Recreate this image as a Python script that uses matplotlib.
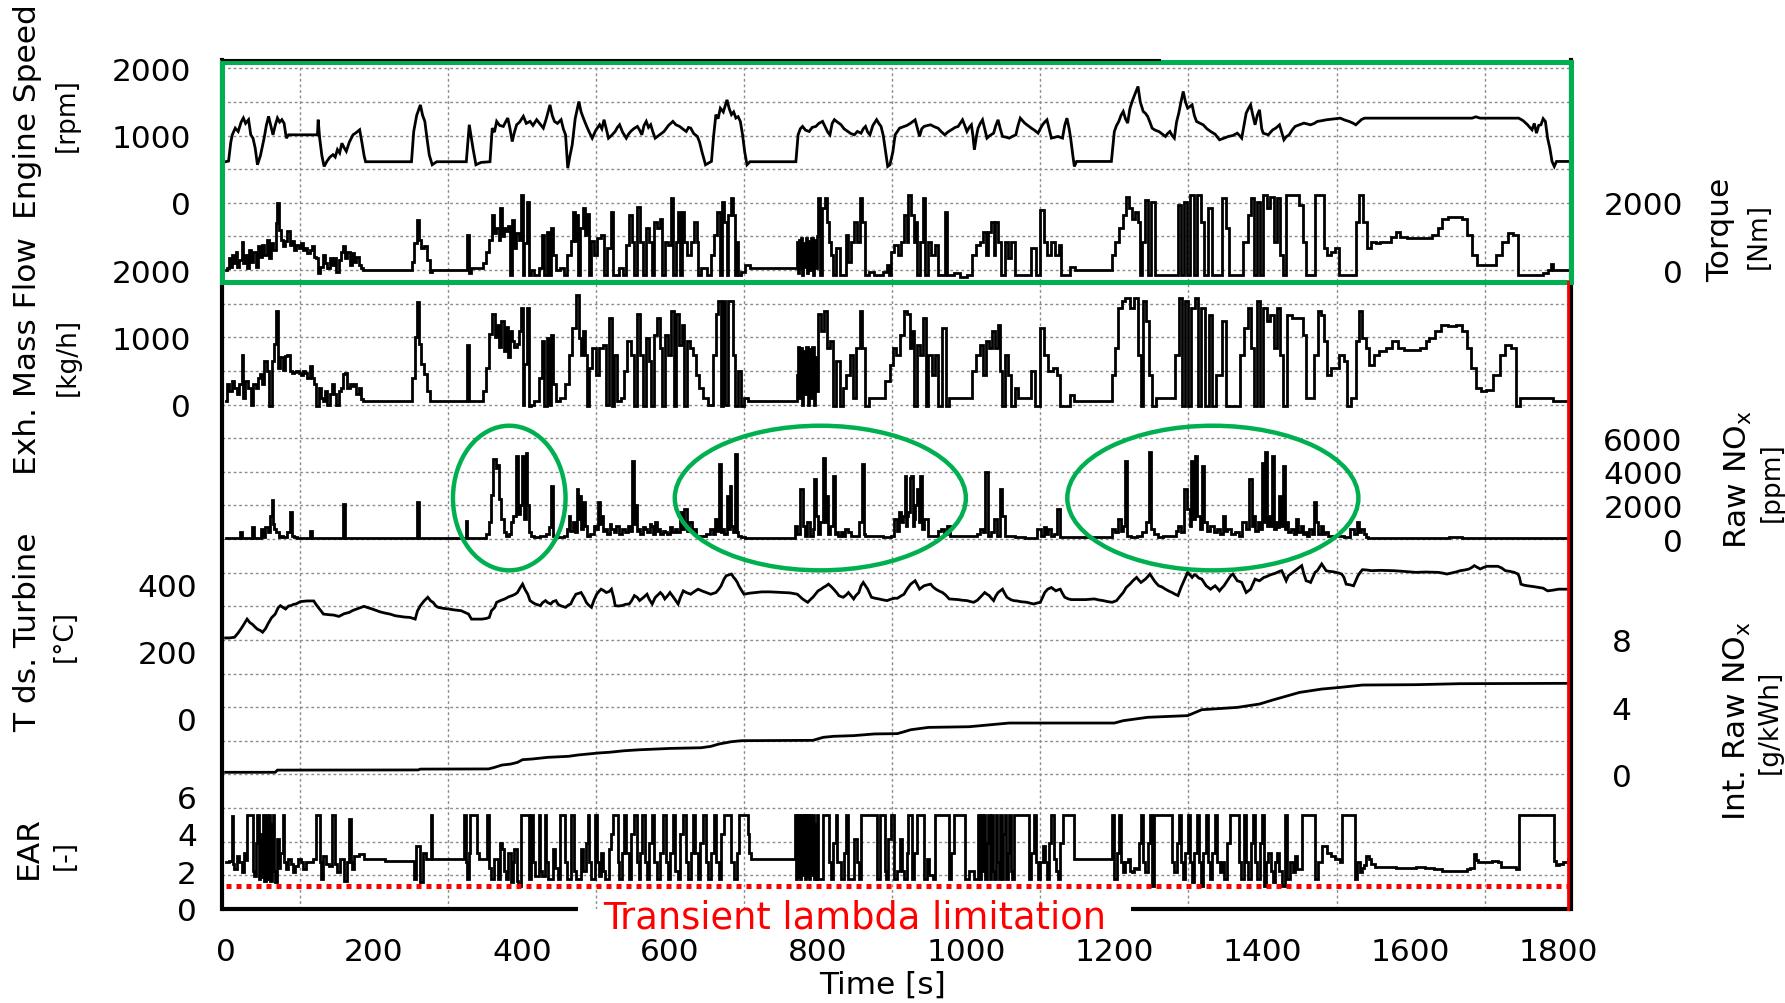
import matplotlib
matplotlib.use("Agg")
import matplotlib.pyplot as plt
import numpy as np
from matplotlib.patches import Ellipse, Rectangle

plt.rcParams["font.family"] = ["DejaVu Sans"]

# ---- signals: (time [s], value) ----
engine_speed = [
    (0, 610), (4, 620), (7, 900), (9, 1010), (13, 1110), (17, 1060), (21, 1200), (24, 1260), (27, 1180),
    (31, 1235), (34, 1010), (37, 960), (40, 810), (43, 565), (47, 700), (52, 960), (55, 1150), (58, 1285),
    (61, 1150), (64, 1010), (67, 1150), (70, 1260), (73, 1200), (76, 1235), (79, 1180), (82, 960), (85, 1010),
    (124, 1010), (125, 1235), (127, 960), (130, 700), (133, 540), (137, 620), (141, 680), (145, 715), (148, 680),
    (151, 790), (154, 740), (157, 885), (160, 820), (163, 765), (167, 900), (172, 1010), (176, 1040), (181, 1085),
    (184, 900), (187, 700), (189, 610), (251, 610), (254, 1060), (258, 1300), (263, 1455), (266, 1300), (269, 1210),
    (272, 950), (275, 710), (279, 565), (285, 610), (325, 610), (329, 1160), (334, 810), (338, 565), (345, 600),
    (357, 610), (360, 1110), (363, 1050), (366, 1210), (370, 1150), (375, 1135), (378, 1200), (381, 1260),
    (384, 1100), (387, 910), (390, 1050), (393, 1160), (397, 1200), (402, 1285), (406, 1180), (411, 1210),
    (415, 1150), (420, 1235), (424, 1180), (429, 1110), (433, 1250), (438, 1455), (441, 1300), (444, 1210),
    (448, 1180), (453, 1235), (456, 1100), (459, 1010), (462, 515), (465, 700), (468, 860), (472, 1250),
    (477, 1505), (480, 1350), (483, 1260), (487, 1150), (491, 1050), (495, 960), (500, 1080), (505, 1160),
    (508, 1100), (511, 1235), (514, 1100), (517, 960), (521, 1000), (526, 1060), (529, 1120), (532, 1160),
    (536, 1050), (541, 960), (544, 1020), (547, 1060), (551, 1100), (556, 1135), (559, 1080), (562, 1010),
    (565, 1150), (568, 1210), (571, 1120), (574, 1160), (577, 1050), (580, 960), (586, 1010), (592, 1060),
    (598, 1150), (604, 1210), (608, 1160), (613, 1135), (617, 1100), (622, 1060), (625, 1120), (628, 1110),
    (632, 1030), (637, 985), (640, 900), (643, 765), (648, 565), (656, 615), (659, 1000), (662, 1310),
    (665, 1250), (668, 1405), (672, 1350), (677, 1530), (680, 1400), (683, 1310), (686, 1350), (689, 1260),
    (692, 1280), (695, 1210), (698, 1010), (701, 750), (704, 565), (708, 610), (770, 610), (773, 1010),
    (776, 1100), (779, 1135), (783, 1080), (788, 1060), (792, 1120), (797, 1135), (801, 1180), (806, 1210),
    (810, 1120), (813, 1050), (816, 1010), (819, 1180), (822, 1235), (826, 1200), (831, 1160), (835, 1100),
    (840, 1060), (844, 1030), (849, 1010), (853, 1060), (858, 1035), (861, 1100), (864, 1135), (867, 1050),
    (870, 1010), (874, 1150), (879, 1235), (882, 1180), (885, 1135), (888, 1000), (891, 765), (894, 540),
    (897, 565), (901, 760), (904, 1010), (910, 1109), (916, 1134), (920, 1150), (925, 1184), (931, 1233),
    (937, 986), (940, 1100), (943, 1134), (948, 1150), (952, 1159), (957, 1130), (962, 1109), (966, 1060),
    (971, 1010), (975, 1050), (980, 1085), (985, 1120), (989, 1134), (995, 1233), (998, 1150), (1001, 1060),
    (1004, 1120), (1007, 1159), (1009, 1000), (1011, 787), (1014, 1000), (1016, 1109), (1019, 1180),
    (1022, 1233), (1025, 1100), (1028, 961), (1032, 1000), (1037, 1035), (1040, 1150), (1043, 1233),
    (1046, 1100), (1049, 986), (1054, 975), (1058, 961), (1063, 990), (1067, 1010), (1070, 1150), (1073, 1258),
    (1076, 1220), (1079, 1184), (1083, 1150), (1088, 1109), (1092, 1080), (1097, 1035), (1100, 1100),
    (1103, 1159), (1106, 1200), (1109, 1233), (1112, 1100), (1115, 961), (1120, 975), (1124, 986), (1128, 970),
    (1130, 961), (1133, 1150), (1136, 1258), (1139, 1100), (1141, 961), (1144, 700), (1146, 540), (1149, 614),
    (1196, 614), (1200, 1060), (1203, 1150), (1206, 1209), (1209, 1300), (1212, 1357), (1215, 1250),
    (1218, 1184), (1221, 1400), (1224, 1506), (1228, 1620), (1232, 1729), (1235, 1500), (1239, 1357),
    (1242, 1330), (1245, 1283), (1248, 1200), (1251, 1109), (1255, 1080), (1260, 1060), (1265, 1020),
    (1269, 986), (1272, 1030), (1275, 1060), (1278, 1000), (1281, 961), (1284, 1200), (1287, 1332),
    (1290, 1500), (1293, 1655), (1296, 1500), (1299, 1407), (1302, 1430), (1305, 1456), (1308, 1300),
    (1311, 1209), (1316, 1180), (1320, 1159), (1325, 1100), (1330, 1060), (1336, 1020), (1342, 936),
    (1348, 960), (1354, 986), (1360, 1000), (1366, 1035), (1369, 1000), (1372, 961), (1375, 1150),
    (1378, 1332), (1381, 1400), (1384, 1456), (1387, 1300), (1390, 1159), (1393, 1300), (1396, 1382),
    (1399, 1100), (1401, 1035), (1405, 1020), (1408, 1010), (1411, 1050), (1414, 1085), (1418, 1110),
    (1423, 1159), (1426, 1050), (1429, 936), (1432, 980), (1436, 1010), (1440, 1080), (1444, 1134),
    (1450, 1160), (1456, 1184), (1461, 1170), (1465, 1159), (1470, 1180), (1474, 1209), (1480, 1220),
    (1486, 1233), (1495, 1245), (1505, 1258), (1511, 1230), (1517, 1209), (1522, 1185), (1526, 1159),
    (1530, 1200), (1534, 1240), (1538, 1258), (1683, 1258), (1688, 1278), (1694, 1258), (1746, 1258),
    (1752, 1220), (1758, 1159), (1761, 1120), (1764, 1085), (1767, 1180), (1770, 1035), (1773, 1150),
    (1776, 1159), (1779, 1250), (1782, 1209), (1785, 961), (1788, 812), (1791, 614), (1794, 540),
    (1797, 614), (1812, 614),
]

torque = [
    (0, 0), (3, 50), (6, 350), (8, 100), (10, 450), (12, 200), (15, 550), (17, 100), (20, 300), (23, 840),
    (25, 200), (27, 450), (30, 50), (33, 600), (36, 250), (39, 550), (42, 100), (45, 700), (48, 400), (51, 750),
    (54, 450), (57, 900), (60, 350), (63, 800), (66, 600), (69, 1400), (71, 1980), (73, 1200), (76, 900),
    (79, 700), (82, 850), (85, 1150), (88, 750), (91, 850), (94, 600), (97, 750), (100, 650), (103, 800),
    (106, 600), (109, 650), (112, 500), (115, 600), (118, 700), (121, 400), (124, 350), (126, -100), (129, 100),
    (133, 450), (136, 200), (139, 50), (142, 350), (145, 150), (148, 350), (151, -50), (154, 300), (157, 550),
    (160, 700), (163, 350), (166, 550), (169, 150), (172, 500), (175, 250), (178, 400), (181, 150), (184, 50),
    (188, 0), (250, 0), (253, 250), (257, 800), (260, 1500), (263, 900), (266, 650), (270, 700), (274, 300),
    (277, -50), (280, 0), (325, 0), (327, 1050), (330, -100), (333, 50), (345, 50), (350, 200), (354, 550),
    (358, 900), (362, 1650), (364, 1100), (367, 1250), (370, 900), (372, 1830), (374, 1000), (377, 1250),
    (380, 1150), (383, 1300), (386, -150), (388, 1500), (391, 650), (394, 1100), (397, 900), (400, 2230),
    (402, -150), (405, 800), (408, 2030), (410, -150), (414, 0), (420, -150), (425, 50), (429, 1040),
    (432, -150), (435, 1140), (438, -150), (441, 1240), (444, 450), (448, 0), (455, 50), (459, -150),
    (464, 450), (468, 850), (471, 1730), (473, 850), (475, 1630), (477, -150), (480, 1240), (484, 1830),
    (486, 1040), (489, 1680), (491, -150), (495, 850), (500, 450), (504, 950), (509, 1040), (513, -150),
    (518, 650), (522, 1730), (525, -150), (529, -150), (534, 50), (538, -150), (543, 740), (547, 1630),
    (550, 840), (554, -150), (558, 1880), (562, 840), (565, -150), (570, 1240), (574, 840), (577, -150),
    (581, 1440), (585, 1240), (588, 1530), (591, -150), (595, 840), (599, 740), (603, 2130), (606, -150),
    (609, 840), (612, 1730), (615, -150), (618, 1730), (621, 840), (626, 450), (630, 840), (635, 1440),
    (637, 840), (640, -150), (644, 50), (648, 50), (653, -150), (657, 450), (662, 1040), (665, 1730),
    (669, -150), (672, 2030), (675, 1440), (678, -150), (680, 1630), (684, 2130), (687, 1630), (689, -150),
    (691, 840), (694, -150), (698, -50), (705, 150), (710, 50), (770, 50), (772, 840), (773, -100), (775, 900),
    (776, 50), (778, 950), (779, -150), (781, 800), (783, 100), (785, 950), (786, -100), (788, 850), (790, 0),
    (792, 950), (793, -150), (795, 900), (797, 50), (799, 1000), (802, 2130), (804, -150), (807, 1830),
    (811, 2130), (813, 1440), (816, 840), (819, 450), (822, -150), (827, 640), (831, -150), (836, -150),
    (840, 1040), (842, 250), (847, 840), (851, 1440), (854, 840), (858, 2130), (861, 1440), (865, -150),
    (872, -50), (878, -150), (883, -150), (892, -50), (894, 150), (897, -150), (901, 540), (905, 740),
    (910, 450), (914, 840), (919, 1630), (921, 840), (923, 2230), (928, 1630), (930, 840), (932, 1440),
    (936, -150), (939, 840), (944, 2130), (946, -150), (950, 840), (955, 450), (960, 740), (964, -150),
    (969, -150), (973, 1730), (975, -150), (980, -150), (987, -100), (996, -200), (1005, -150), (1011, 450),
    (1016, 740), (1020, 840), (1025, 1140), (1028, 450), (1032, 1140), (1036, 1440), (1038, 450), (1041, 1440),
    (1045, 840), (1050, -150), (1054, 840), (1059, 350), (1063, 840), (1068, -150), (1076, -150), (1085, -150),
    (1091, 640), (1097, -150), (1103, 1780), (1107, 840), (1112, 450), (1118, 840), (1123, 450), (1127, 740),
    (1130, -150), (1136, -150), (1145, 100), (1150, 0), (1195, 0), (1198, 450), (1203, 840), (1209, 1240),
    (1214, 1630), (1218, 2180), (1222, 1830), (1227, 1530), (1230, 1730), (1233, 1440), (1236, -150),
    (1240, 840), (1244, 2080), (1248, -150), (1252, 2030), (1257, -150), (1266, -150), (1275, -150),
    (1284, -150), (1288, 1930), (1292, -150), (1296, 2030), (1300, -150), (1305, 2230), (1310, -150),
    (1314, 2230), (1319, 1440), (1322, -150), (1330, 1830), (1333, -150), (1342, -150), (1349, 2130),
    (1352, 1240), (1357, -150), (1363, -150), (1370, -150), (1378, 840), (1383, 1630), (1387, 2130),
    (1391, -150), (1395, 2030), (1399, -150), (1403, 2230), (1408, 1830), (1413, 2180), (1417, 840),
    (1421, 2130), (1426, 450), (1429, -150), (1435, 2230), (1447, 2230), (1453, 1930), (1457, 840),
    (1461, -150), (1468, -150), (1473, 2230), (1480, 2230), (1485, 640), (1490, 450), (1495, 540), (1501, 640),
    (1507, -150), (1517, -150), (1524, -150), (1529, 1440), (1533, 2230), (1538, 1440), (1544, 640), (1550, 840),
    (1556, 790), (1562, 840), (1571, 840), (1577, 990), (1583, 1140), (1589, 990), (1601, 940), (1613, 960),
    (1625, 940), (1634, 1040), (1640, 1240), (1646, 1530), (1655, 1580), (1667, 1580), (1673, 1530),
    (1680, 1040), (1686, 450), (1692, 150), (1704, 150), (1713, 150), (1719, 450), (1728, 840), (1734, 1090),
    (1743, 1040), (1746, -150), (1758, -150), (1776, -150), (1782, -100), (1788, 0), (1791, 170), (1794, 0),
    (1812, 0),
]

exh_mass_flow = [
    (0, 50), (3, 300), (7, 200), (9, 350), (14, 250), (17, 150), (20, 300), (23, 740), (25, 100), (28, 350),
    (32, 250), (36, 0), (39, 300), (42, 250), (45, 400), (48, 450), (51, 300), (54, 640), (57, 500), (61, -20),
    (64, 640), (67, 900), (70, 1390), (72, 550), (76, 700), (79, 520), (82, 720), (85, 740), (88, 500),
    (91, 470), (94, 480), (97, 500), (100, 470), (103, 440), (106, 500), (109, 470), (112, 400), (115, 580),
    (118, 400), (121, 300), (124, -20), (127, 250), (130, 100), (133, 60), (136, 200), (139, 0), (142, 150),
    (145, 300), (148, 150), (151, 0), (154, 200), (157, 250), (160, 450), (163, 470), (166, 250), (169, 300),
    (172, 280), (175, 300), (178, 150), (181, 250), (184, 80), (188, 50), (250, 50), (254, 400), (258, 1000),
    (260, 1530), (263, 900), (266, 600), (270, 450), (274, 200), (277, 50), (325, 50), (328, 890), (330, 50),
    (345, 50), (350, 200), (354, 550), (357, 1050), (362, 1340), (365, 1000), (368, 1180), (371, 850),
    (374, 1240), (377, 800), (380, 1150), (383, 700), (385, 1100), (388, 950), (391, 850), (395, 900),
    (398, 1100), (400, 1430), (402, 0), (405, 600), (408, 1430), (410, -20), (414, 0), (420, 50), (425, 400),
    (429, 940), (432, -20), (435, 990), (438, 0), (441, 1040), (444, 300), (447, 50), (456, 100), (461, 300),
    (465, 740), (470, 1140), (475, 1630), (478, 990), (481, 740), (484, 1090), (486, 740), (489, -20),
    (493, 545), (497, 842), (502, 446), (507, 842), (511, 891), (516, 0), (520, 1290), (523, -20), (527, 740),
    (531, 50), (536, 100), (540, 495), (545, 940), (549, 740), (554, -20), (558, 1340), (562, 740), (565, -20),
    (570, 990), (573, 640), (577, -20), (581, 1040), (584, 1290), (588, 842), (591, -20), (596, 1040),
    (599, 740), (604, 1390), (606, -20), (611, 1340), (614, 891), (618, 1190), (621, -20), (624, 940),
    (629, 842), (633, 743), (637, 446), (642, 250), (648, 100), (655, 0), (660, 743), (664, 1340), (667, 1535),
    (670, -20), (673, 1535), (676, 0), (680, 1535), (684, 1535), (687, 743), (689, -20), (694, 495), (698, -20),
    (703, 100), (708, 50), (770, 50), (772, 446), (774, 850), (775, 100), (777, 840), (779, 0), (781, 800),
    (783, 150), (785, 850), (787, 0), (789, 820), (791, 100), (793, 850), (795, 0), (797, 700), (799, 200),
    (802, 1340), (806, 1090), (811, 1390), (814, 842), (817, 940), (822, -20), (827, 644), (831, -20),
    (836, 250), (840, 446), (845, 743), (849, 100), (854, 842), (858, 1390), (861, 842), (865, -20), (872, 100),
    (878, 100), (887, 100), (894, 350), (899, 594), (903, 842), (908, 743), (914, 1040), (919, 1390),
    (922, 1340), (925, 842), (928, 1090), (932, -20), (935, 891), (940, 743), (944, 1290), (947, -20),
    (951, 743), (956, 446), (960, 743), (964, -20), (971, 1139), (974, -20), (980, 100), (991, 100),
    (1004, 100), (1011, 495), (1016, 743), (1020, 891), (1024, 446), (1029, 940), (1033, 842), (1036, 1090),
    (1041, 842), (1044, 1188), (1047, 495), (1050, -20), (1055, 743), (1059, 446), (1063, -20), (1068, 250),
    (1072, 100), (1085, 100), (1091, 495), (1096, -20), (1103, 1139), (1108, 743), (1114, 495), (1120, 545),
    (1124, 446), (1130, -20), (1136, -20), (1143, 149), (1148, 50), (1196, 50), (1198, 446), (1203, 842),
    (1208, 1436), (1212, 1535), (1218, 1584), (1224, 1436), (1230, 1584), (1234, 743), (1237, -20),
    (1241, 1535), (1244, 1238), (1249, 446), (1253, -20), (1259, 99), (1268, 99), (1280, 99), (1285, 743),
    (1290, 1584), (1294, -20), (1297, 1535), (1301, -20), (1307, 1436), (1312, 1584), (1315, -20),
    (1320, 1436), (1326, -20), (1330, 1337), (1334, -20), (1341, 446), (1349, 1238), (1353, -20), (1358, -20),
    (1366, -20), (1373, 743), (1378, 1139), (1383, 1436), (1387, 842), (1390, -20), (1395, 1535), (1399, -20),
    (1403, 1436), (1408, 1238), (1413, 1337), (1417, 842), (1421, 1436), (1426, 743), (1430, -20),
    (1435, 1337), (1444, 1287), (1453, 1287), (1457, 1040), (1461, 99), (1466, 99), (1473, 743), (1477, 1386),
    (1481, 1337), (1485, 941), (1489, 446), (1495, 545), (1501, 545), (1507, 743), (1512, 644), (1517, -20),
    (1523, 99), (1529, 941), (1533, 1386), (1537, 990), (1542, 842), (1547, 594), (1553, 743), (1562, 792),
    (1571, 842), (1580, 941), (1586, 842), (1595, 817), (1607, 817), (1619, 842), (1622, 941), (1628, 990),
    (1637, 1089), (1646, 1188), (1655, 1164), (1667, 1188), (1673, 1089), (1679, 842), (1685, 545),
    (1692, 248), (1698, 198), (1707, 223), (1716, 446), (1725, 743), (1731, 891), (1740, 842), (1746, -20),
    (1749, 99), (1770, 99), (1791, 99), (1794, 50), (1812, 50),
]

raw_nox = [
    (0, 40), (18, 40), (21, 400), (23, 40), (35, 40), (37, 700), (39, 40), (46, 40), (49, 600), (51, 100),
    (56, 700), (59, 400), (61, 1400), (63, 2300), (65, 900), (67, 600), (70, 400), (73, 100), (76, 200),
    (80, 100), (85, 400), (88, 1600), (90, 200), (94, 100), (100, 40), (112, 40), (115, 500), (117, 40),
    (158, 40), (160, 2100), (162, 40), (258, 40), (260, 2200), (262, 40), (323, 40), (325, 1100), (327, 40),
    (350, 40), (353, 300), (357, 1000), (360, 2600), (363, 4750), (366, 4200), (368, 4400), (371, 2400),
    (374, 1200), (377, 400), (380, 200), (384, 300), (387, 1000), (390, 1400), (393, 4950), (396, 1500),
    (399, 2000), (402, 4950), (404, 1200), (406, 5100), (408, 2000), (410, 400), (414, 200), (420, 100),
    (430, 200), (435, 300), (438, 700), (441, 3170), (443, 200), (447, 100), (455, 100), (459, 200), (462, 600),
    (464, 1400), (467, 500), (471, 1000), (473, 400), (475, 2970), (477, 1200), (478, 2570), (481, 600),
    (484, 2180), (486, 800), (489, 200), (495, 300), (499, 800), (502, 600), (504, 2180), (507, 900),
    (509, 1400), (511, 500), (513, 600), (517, 300), (520, 900), (522, 600), (526, 400), (529, 800), (533, 300),
    (537, 600), (541, 400), (545, 800), (548, 500), (550, 4650), (552, 900), (554, 2000), (556, 500),
    (558, 600), (562, 300), (565, 700), (567, 600), (571, 400), (574, 900), (576, 800), (579, 300), (581, 1000),
    (583, 500), (585, 600), (589, 300), (592, 500), (594, 400), (598, 300), (601, 700), (605, 400), (608, 600),
    (612, 400), (615, 1600), (618, 600), (621, 1800), (624, 500), (628, 1000), (631, 400), (633, 600),
    (637, 200), (645, 200), (652, 300), (657, 600), (660, 300), (662, 1200), (665, 500), (667, 4450),
    (670, 400), (672, 600), (675, 300), (678, 2570), (680, 600), (681, 3170), (683, 800), (686, 400),
    (689, 5050), (691, 400), (693, 200), (698, 100), (705, 40), (768, 40), (770, 800), (773, 300), (777, 2970),
    (781, 800), (784, 200), (786, 1000), (791, 200), (794, 600), (796, 3560), (799, 1400), (801, 300),
    (804, 1000), (808, 4850), (810, 1000), (813, 2570), (815, 300), (817, 800), (822, 3760), (824, 300),
    (826, 400), (829, 200), (832, 400), (835, 200), (838, 600), (842, 400), (846, 200), (853, 200), (858, 1000),
    (861, 4450), (863, 300), (865, 200), (880, 200), (895, 100), (901, 200), (905, 1200), (908, 500),
    (910, 1600), (914, 1000), (916, 1400), (918, 3760), (920, 800), (921, 1400), (923, 1600), (925, 3660),
    (927, 3760), (929, 800), (930, 1200), (933, 2000), (935, 2970), (937, 1000), (939, 3760), (941, 600),
    (946, 1200), (950, 200), (961, 200), (964, 500), (968, 600), (972, 300), (975, 800), (981, 200),
    (1011, 200), (1017, 300), (1020, 600), (1024, 400), (1027, 3960), (1029, 3960), (1031, 200), (1036, 400),
    (1040, 1200), (1043, 200), (1047, 2970), (1050, 1400), (1054, 200), (1063, 200), (1070, 100), (1090, 40),
    (1100, 600), (1103, 200), (1106, 700), (1109, 300), (1112, 600), (1116, 200), (1120, 300), (1124, 1780),
    (1128, 100), (1196, 100), (1198, 600), (1203, 400), (1207, 1200), (1210, 500), (1213, 800), (1215, 4650),
    (1219, 200), (1226, 150), (1235, 200), (1240, 400), (1245, 1000), (1248, 5150), (1251, 600), (1255, 300),
    (1262, 150), (1269, 200), (1281, 200), (1285, 500), (1287, 800), (1292, 400), (1296, 2970), (1300, 1800),
    (1303, 800), (1305, 4650), (1308, 1200), (1310, 4950), (1314, 1400), (1317, 600), (1319, 4350),
    (1323, 1000), (1327, 500), (1332, 800), (1336, 400), (1341, 600), (1345, 300), (1348, 1400), (1351, 500),
    (1354, 600), (1360, 300), (1366, 400), (1370, 200), (1375, 1000), (1380, 600), (1384, 3560), (1387, 800),
    (1389, 1400), (1392, 500), (1395, 1000), (1398, 600), (1401, 4550), (1403, 1000), (1405, 5150),
    (1407, 800), (1409, 1400), (1412, 800), (1414, 4950), (1417, 600), (1419, 1000), (1421, 700), (1423, 2570),
    (1426, 800), (1429, 4350), (1431, 600), (1433, 1000), (1437, 400), (1441, 600), (1444, 300), (1447, 1200),
    (1450, 400), (1453, 800), (1456, 300), (1459, 400), (1462, 200), (1465, 600), (1468, 300), (1471, 2180),
    (1474, 1000), (1477, 300), (1480, 800), (1483, 300), (1486, 400), (1490, 200), (1504, 200), (1515, 100),
    (1522, 600), (1525, 300), (1529, 1000), (1532, 400), (1535, 600), (1538, 300), (1541, 100), (1545, 40),
    (1650, 40), (1653, 100), (1668, 100), (1671, 40), (1812, 40),
]

t_ds_turbine = [
    (0, 240), (5, 240), (12, 242), (17, 255), (22, 271), (26, 285), (29, 296), (33, 285), (36, 281), (40, 272),
    (43, 266), (47, 262), (50, 257), (54, 268), (57, 281), (62, 300), (67, 311), (71, 330), (74, 336), (78, 330),
    (81, 326), (85, 335), (88, 336), (92, 340), (95, 341), (101, 348), (110, 350), (119, 350), (122, 340),
    (125, 331), (129, 320), (132, 311), (140, 309), (146, 308), (153, 304), (160, 312), (167, 316), (172, 322),
    (177, 326), (182, 330), (187, 334), (192, 330), (198, 326), (203, 322), (208, 318), (215, 314), (222, 311),
    (229, 306), (236, 304), (242, 302), (249, 301), (256, 296), (259, 320), (263, 336), (268, 350), (273, 361),
    (277, 350), (280, 346), (284, 335), (287, 331), (294, 328), (301, 326), (310, 323), (318, 321), (323, 316),
    (328, 311), (332, 296), (340, 296), (346, 296), (352, 298), (356, 301), (359, 321), (363, 330), (366, 346),
    (372, 352), (377, 356), (382, 362), (387, 366), (391, 370), (394, 375), (398, 390), (401, 400), (404, 385),
    (408, 370), (411, 351), (415, 345), (418, 341), (422, 338), (425, 336), (428, 345), (432, 351), (435, 345),
    (439, 341), (442, 348), (446, 351), (449, 340), (452, 336), (456, 333), (459, 331), (463, 338), (466, 341),
    (469, 355), (473, 370), (476, 372), (480, 375), (484, 360), (487, 346), (490, 338), (494, 331), (497, 350),
    (501, 370), (504, 378), (507, 385), (511, 380), (514, 375), (518, 378), (521, 385), (524, 360), (526, 336),
    (530, 335), (535, 336), (540, 340), (545, 341), (548, 350), (552, 366), (556, 360), (559, 351), (564, 360),
    (569, 370), (572, 355), (576, 341), (580, 360), (587, 375), (590, 368), (593, 356), (597, 366), (600, 375),
    (605, 360), (611, 341), (614, 360), (618, 380), (622, 375), (628, 370), (633, 378), (638, 385), (643, 380),
    (649, 375), (655, 370), (658, 372), (662, 375), (666, 385), (669, 395), (673, 415), (676, 425), (680, 428),
    (683, 430), (686, 420), (688, 415), (691, 405), (693, 395), (697, 380), (700, 370), (707, 373), (715, 375),
    (724, 377), (735, 377), (745, 376), (752, 375), (762, 374), (772, 370), (776, 362), (779, 356), (783, 350),
    (786, 346), (790, 355), (793, 361), (797, 372), (800, 380), (804, 385), (807, 390), (811, 395), (814, 400),
    (818, 392), (821, 385), (825, 375), (828, 366), (831, 363), (834, 361), (838, 368), (841, 375), (845, 364),
    (848, 356), (851, 366), (855, 375), (858, 395), (861, 405), (864, 395), (867, 385), (872, 361), (877, 358),
    (882, 356), (888, 353), (893, 351), (898, 355), (903, 358), (907, 358), (912, 365), (916, 370), (920, 385),
    (925, 400), (928, 405), (931, 410), (934, 398), (937, 385), (940, 390), (943, 395), (948, 398), (952, 400),
    (955, 392), (959, 385), (963, 380), (968, 375), (972, 368), (977, 356), (983, 355), (989, 354), (995, 352),
    (1001, 351), (1006, 348), (1010, 346), (1015, 352), (1019, 361), (1022, 368), (1025, 375), (1028, 370),
    (1031, 366), (1034, 358), (1037, 351), (1040, 365), (1043, 375), (1046, 380), (1049, 385), (1052, 372),
    (1055, 361), (1060, 354), (1064, 351), (1069, 350), (1073, 348), (1078, 347), (1082, 346), (1087, 343),
    (1091, 341), (1096, 344), (1100, 346), (1103, 360), (1106, 375), (1110, 385), (1115, 390), (1118, 385),
    (1121, 380), (1124, 383), (1127, 385), (1130, 372), (1133, 361), (1138, 356), (1142, 354), (1151, 354),
    (1161, 354), (1167, 355), (1173, 356), (1179, 353), (1185, 351), (1191, 348), (1197, 346), (1203, 351),
    (1207, 362), (1212, 375), (1216, 390), (1221, 400), (1225, 410), (1230, 420), (1233, 412), (1236, 405),
    (1239, 410), (1242, 415), (1245, 422), (1248, 430), (1251, 420), (1254, 410), (1257, 402), (1260, 395),
    (1264, 392), (1269, 385), (1273, 380), (1278, 375), (1282, 370), (1286, 366), (1290, 390), (1293, 405),
    (1296, 420), (1299, 435), (1302, 428), (1305, 420), (1308, 428), (1311, 425), (1314, 418), (1318, 415),
    (1321, 405), (1324, 395), (1327, 390), (1330, 385), (1333, 390), (1336, 395), (1339, 388), (1342, 380),
    (1345, 388), (1348, 395), (1351, 405), (1354, 415), (1357, 425), (1360, 430), (1363, 420), (1366, 410),
    (1369, 408), (1372, 405), (1375, 390), (1378, 375), (1381, 380), (1384, 385), (1387, 400), (1390, 415),
    (1393, 412), (1396, 410), (1399, 415), (1402, 420), (1405, 422), (1408, 425), (1411, 428), (1414, 430),
    (1417, 432), (1420, 435), (1423, 438), (1426, 440), (1429, 425), (1432, 410), (1435, 425), (1438, 430),
    (1441, 435), (1444, 440), (1447, 445), (1450, 450), (1453, 455), (1456, 430), (1459, 410), (1462, 408),
    (1465, 405), (1468, 420), (1471, 435), (1474, 440), (1477, 450), (1480, 460), (1483, 450), (1486, 440),
    (1490, 438), (1495, 437), (1499, 435), (1503, 433), (1507, 430), (1510, 420), (1513, 400), (1518, 398),
    (1523, 395), (1526, 410), (1529, 425), (1532, 435), (1535, 443), (1541, 442), (1547, 440), (1560, 441),
    (1577, 440), (1590, 438), (1607, 435), (1620, 436), (1637, 435), (1643, 433), (1649, 430), (1655, 433),
    (1661, 436), (1667, 440), (1673, 442), (1679, 445), (1683, 450), (1686, 455), (1690, 450), (1694, 445),
    (1699, 450), (1703, 453), (1710, 453), (1718, 453), (1723, 448), (1728, 440), (1734, 438), (1740, 435),
    (1745, 430), (1747, 420), (1749, 400), (1753, 397), (1758, 395), (1765, 393), (1773, 390), (1779, 388),
    (1785, 380), (1792, 382), (1800, 385), (1812, 385),
]

int_raw_nox = [
    (0, 0.13), (67, 0.13), (70, 0.26), (260, 0.27), (263, 0.32), (355, 0.33), (363, 0.42), (373, 0.56),
    (385, 0.62), (394, 0.72), (401, 0.88), (414, 0.92), (435, 1.02), (463, 1.08), (476, 1.16), (490, 1.22),
    (504, 1.28), (518, 1.32), (538, 1.41), (559, 1.47), (580, 1.51), (600, 1.55), (621, 1.57), (642, 1.59),
    (655, 1.67), (666, 1.81), (683, 1.95), (697, 2.01), (793, 2.03), (807, 2.21), (821, 2.27), (848, 2.31),
    (876, 2.41), (907, 2.43), (916, 2.54), (925, 2.66), (949, 2.80), (1004, 2.84), (1058, 3.06), (1200, 3.06),
    (1212, 3.20), (1245, 3.40), (1299, 3.50), (1318, 3.85), (1366, 3.99), (1396, 4.19), (1414, 4.43),
    (1450, 4.88), (1480, 5.08), (1505, 5.18), (1535, 5.32), (1607, 5.34), (1667, 5.40), (1812, 5.42),
]

ear = [
    (0, 2.48), (5, 2.57), (8, 2.5), (9, 4.95), (10, 2.4), (12, 2.13), (15, 2.8), (18, 2.5), (22, 1.95),
    (25, 3.0), (28, 2.6), (29, 5.0), (36, 5.0), (37, 2.0), (39, 1.77), (41, 3.5), (43, 5.0), (45, 1.6),
    (47, 4.0), (48, 1.7), (50, 5.0), (52, 1.5), (54, 5.0), (56, 1.6), (58, 5.0), (60, 1.5), (62, 4.5),
    (63.5, 5.0), (65, 2.0), (67, 1.42), (70, 3.72), (72, 2.2), (74, 3.0), (77, 5.0), (79, 2.5), (81, 2.13),
    (84, 2.66), (88, 2.4), (91, 1.95), (94, 2.3), (98, 2.66), (102, 2.5), (105, 2.13), (109, 2.5), (112, 2.48),
    (118, 2.66), (122, 5.0), (125, 5.0), (127, 2.5), (129, 1.6), (132, 2.83), (136, 2.4), (139, 2.3),
    (143, 5.0), (146, 5.0), (148, 2.4), (150, 1.95), (155, 2.66), (160, 1.5), (164, 2.5), (167, 4.8),
    (169, 2.5), (170, 2.13), (174, 2.83), (180, 2.9), (187, 2.66), (201, 2.63), (215, 2.57), (251, 2.57),
    (255, 1.6), (257.6, 3.36), (262, 1.42), (266.5, 3.0), (270, 2.66), (276, 2.66), (277, 5.0), (279, 2.66),
    (287, 2.63), (319, 2.63), (322, 5.0), (324, 2.5), (326, 1.6), (328, 3.0), (330.5, 5.0), (339, 5.0),
    (340, 3.0), (342, 2.66), (351, 2.66), (353, 5.0), (355, 2.2), (358, 1.6), (363, 2.66), (367.7, 1.6),
    (370, 3.5), (373, 3.2), (376, 2.0), (378.7, 1.6), (381, 3.0), (383.5, 3.0), (386, 1.42), (388, 2.5),
    (390, 3.2), (393, 1.5), (395, 1.24), (399, 5.0), (406, 5.0), (409, 1.6), (413, 5.0), (415, 2.5),
    (418, 1.77), (423, 5.0), (425, 2.0), (427, 1.77), (431.7, 5.0), (433, 2.5), (435, 1.6), (442, 3.2),
    (445, 2.2), (449, 1.6), (452, 5.0), (456, 5.0), (458, 2.5), (461, 1.6), (466, 5.0), (470, 2.0),
    (473, 1.6), (480, 3.2), (483, 2.0), (486, 3.5), (489, 5.0), (491, 2.5), (494, 1.6), (498.5, 5.0),
    (501, 2.5), (504, 1.77), (507, 3.0), (509, 2.0), (512, 1.6), (517.7, 3.2), (520, 4.0), (523, 5.0),
    (528, 5.0), (530, 2.5), (531.5, 1.6), (535, 3.0), (538, 5.0), (541, 3.0), (545, 1.6), (548, 4.0),
    (552, 5.0), (555, 2.5), (557.7, 1.6), (560, 3.0), (562.5, 5.0), (566, 2.5), (569, 1.6), (572, 3.5),
    (576, 5.0), (579, 2.5), (583, 1.6), (586, 3.0), (590, 5.0), (594, 2.5), (597, 1.6), (600, 3.0), (604, 5.0),
    (607, 2.0), (610.7, 1.6), (614, 4.0), (617.6, 5.0), (621, 2.5), (624.4, 1.6), (628, 3.0), (631, 5.0),
    (634, 3.0), (638, 1.6), (641, 3.5), (645, 5.0), (648, 2.5), (652, 1.6), (655, 3.0), (659, 5.0), (662, 2.5),
    (666, 1.6), (669, 4.0), (672.6, 5.0), (679.5, 5.0), (682, 2.5), (686, 1.6), (690, 3.0), (693, 5.0),
    (703.6, 5.0), (706, 4.0), (707, 3.0), (710, 2.66), (717, 2.63), (765.5, 2.63), (769, 5.0), (770, 1.6),
    (771.5, 5.0), (773, 1.7), (774.5, 5.0), (776, 1.6), (777.5, 5.0), (779, 1.8), (780.5, 5.0), (782, 1.6),
    (783.5, 5.0), (785, 1.7), (786.5, 5.0), (788, 1.6), (789.5, 5.0), (791, 1.8), (792.5, 5.0), (794, 1.6),
    (795.5, 4.5), (797, 1.6), (798.5, 5.0), (800, 1.6), (807, 5.0), (814, 5.0), (815, 2.5), (817, 1.6),
    (820, 3.5), (824, 5.0), (826, 2.5), (831, 1.6), (835, 3.0), (838, 5.0), (840, 2.5), (841, 1.6),
    (848, 3.72), (852, 2.5), (855, 1.6), (858, 5.0), (875.6, 5.0), (878, 5.0), (879, 1.6), (883, 5.0),
    (888, 5.0), (890, 2.0), (892, 1.6), (895, 3.72), (898, 5.0), (901, 5.0), (903, 1.6), (906, 2.0),
    (910, 3.72), (913, 2.0), (916, 1.6), (920, 3.0), (922, 5.0), (924, 5.0), (926.5, 1.6), (930, 3.0),
    (934, 5.0), (940, 5.0), (943.4, 1.6), (947, 2.66), (950, 1.8), (955.5, 1.6), (958.5, 5.0), (973.6, 5.0),
    (976.6, 1.6), (980, 3.0), (984, 5.0), (994.7, 5.0), (997.7, 1.6), (1004, 2.0), (1010, 1.6), (1016, 5.0),
    (1018, 1.6), (1020, 5.0), (1022, 2.0), (1024, 5.0), (1026, 1.6), (1028, 3.5), (1030, 5.0), (1032, 1.6),
    (1034, 5.0), (1036, 2.0), (1038, 1.6), (1040, 5.0), (1042, 2.5), (1044, 1.6), (1046, 5.0), (1048, 1.6),
    (1050, 4.0), (1052, 5.0), (1054, 1.6), (1056, 3.0), (1058, 5.0), (1060, 2.0), (1062, 1.6), (1064, 5.0),
    (1082, 5.0), (1085, 1.6), (1088, 3.0), (1091, 5.0), (1094, 2.5), (1097, 1.6), (1100, 2.5), (1103, 3.36),
    (1106, 2.5), (1109, 1.6), (1112, 3.5), (1115, 5.0), (1118, 2.66), (1121, 2.0), (1124, 1.6), (1127, 3.5),
    (1130.5, 5.0), (1142.5, 5.0), (1145.5, 2.66), (1151.6, 2.63), (1193.8, 2.63), (1197, 5.0), (1200, 1.6),
    (1203, 3.0), (1206, 5.0), (1209, 2.5), (1212, 1.95), (1215, 2.5), (1218, 2.66), (1221, 2.0), (1224, 1.95),
    (1227, 2.2), (1230, 2.13), (1233, 3.5), (1236, 5.0), (1239, 2.5), (1242, 1.95), (1245, 3.5), (1248, 5.0),
    (1251, 1.24), (1254, 5.0), (1275, 5.0), (1278, 2.5), (1281, 1.95), (1284, 3.5), (1287, 5.0), (1290, 2.5),
    (1293, 1.6), (1296, 3.0), (1299, 5.0), (1302, 2.5), (1305, 1.42), (1308, 3.0), (1311.5, 5.0), (1314, 2.5),
    (1317.5, 1.24), (1320, 3.0), (1323.5, 5.0), (1326, 2.5), (1329, 1.6), (1332, 3.0), (1335.6, 5.0),
    (1339, 2.5), (1342, 1.95), (1345, 2.5), (1347.7, 1.6), (1352, 3.5), (1356.7, 5.0), (1365.8, 5.0),
    (1368, 2.5), (1370.6, 1.6), (1374.8, 5.0), (1378, 2.5), (1381, 1.6), (1384, 3.5), (1387, 5.0), (1390, 2.5),
    (1393, 1.6), (1396, 3.5), (1399, 5.0), (1402, 1.24), (1405, 2.5), (1408, 3.0), (1411, 2.0), (1414, 1.42),
    (1417, 2.5), (1420, 3.0), (1423, 2.0), (1426, 1.24), (1431, 5.0), (1433, 1.6), (1437, 2.5), (1441, 1.95),
    (1444, 2.8), (1447, 2.13), (1453, 5.0), (1468, 5.0), (1471, 1.6), (1475, 2.5), (1480, 3.36), (1483, 3.36),
    (1487, 3.0), (1492, 2.83), (1498.5, 2.66), (1504.5, 2.48), (1507.5, 5.0), (1522.6, 5.0), (1525.6, 1.6),
    (1528, 2.5), (1531.7, 1.95), (1535, 2.2), (1537.7, 2.31), (1540, 2.8), (1543.7, 2.66), (1546.8, 2.4),
    (1552, 2.25), (1558.8, 2.22), (1580, 2.2), (1607, 2.22), (1620, 2.18), (1631, 2.13), (1643, 2.04),
    (1667, 2.04), (1676.5, 2.13), (1680, 2.2), (1685.5, 2.92), (1688, 2.6), (1691.6, 2.48), (1703.6, 2.48),
    (1710, 2.55), (1718.7, 2.48), (1721.7, 2.22), (1742.8, 2.13), (1745.9, 5.0), (1791, 5.0), (1794, 2.57),
    (1797, 2.31), (1801, 2.4), (1806, 2.48), (1812, 2.66),
]

lambda_limit_ear = 1.22
time_end = 1812
x_ticks = list(range(0, 1801, 200))

# ---- layout (pixels of the 1785x1004 canvas) ----
W, H, DPI = 1785, 1004, 100
LEFT_PX, RIGHT_PX, BOTTOM_PX, TOP_PX = 221.9, 1571.3, 910.0, 61.0
RECT = [LEFT_PX / W, 1 - BOTTOM_PX / H, (RIGHT_PX - LEFT_PX) / W, (BOTTOM_PX - TOP_PX) / H]
X_MIN, X_MAX = -5, 1817
U_TOP = 25.245   # plot height in grid units
GREEN = "#00B050"
TICK_FS = 22.5


def unzip(pairs):
    arr = np.asarray(pairs, dtype=float)
    return arr[:, 0], arr[:, 1]


fig = plt.figure(figsize=(W / DPI, H / DPI), dpi=DPI)

base = fig.add_axes(RECT)
base.set_xlim(X_MIN, X_MAX)
base.set_ylim(0, U_TOP)
base.set_xticks(x_ticks)
base.set_xticks(range(100, 1801, 100), minor=True)
base.set_yticks(range(1, 26))
base.tick_params(axis="x", which="both", length=0, labelsize=TICK_FS, pad=20.5)
base.tick_params(axis="y", length=0, labelleft=False)
base.grid(True, axis="x", which="minor", color="#8c8c8c", linestyle=(0, (2, 2)), linewidth=1.0)
base.grid(True, axis="y", which="major", color="#8c8c8c", linestyle=(0, (2, 2)), linewidth=1.0)
base.spines["top"].set_visible(False)
base.spines["bottom"].set_visible(False)
base.spines["left"].set_linewidth(3)
base.spines["right"].set_linewidth(3)


def channel_axes(offset, per_unit, side, ticks, pad):
    ax = fig.add_axes(RECT, sharex=base)
    ax.set_ylim(-offset * per_unit, (U_TOP - offset) * per_unit)
    ax.patch.set_visible(False)
    for spine in ax.spines.values():
        spine.set_visible(False)
    ax.tick_params(axis="x", which="both", bottom=False, labelbottom=False)
    ax.set_yticks(ticks)
    if side == "right":
        ax.tick_params(axis="y", left=False, labelleft=False, right=False, labelright=True,
                       labelsize=TICK_FS, pad=pad)
        plt.setp(ax.yaxis.get_majorticklabels(), ha="right")
    else:
        ax.tick_params(axis="y", length=0, labelsize=TICK_FS, pad=pad)
    return ax


line_kw = dict(color="black", linewidth=2.0, solid_joinstyle="miter")

# (data, grid offset, value per grid unit, tick side, ticks, label pad, drawstyle)
channels = [
    (engine_speed, 21.0, 500.0, "left", [0, 1000, 2000], 22.0, "default"),
    (torque, 19.0, 1000.0, "right", [0, 2000], 76.8, "steps-mid"),
    (exh_mass_flow, 15.0, 500.0, "left", [0, 1000, 2000], 22.0, "steps-mid"),
    (raw_nox, 11.0, 2000.0, "right", [0, 2000, 4000, 6000], 76.8, "steps-mid"),
    (t_ds_turbine, 5.66, 100.0, "left", [0, 200, 400], 17.9, "default"),
    (int_raw_nox, 4.0, 2.0, "right", [0, 4, 8], 40.1, "default"),
    (ear, 0.0, 1 / 0.56, "left", [0, 2, 4, 6], 17.9, "steps-post"),
]
for data, offset, per_unit, side, ticks, pad, style in channels:
    ax = channel_axes(offset, per_unit, side, ticks, pad)
    t, v = unzip(data)
    ax.plot(t, v, drawstyle=style, **line_kw)
ax_ear = ax
ax_ear.plot([0, time_end], [lambda_limit_ear, lambda_limit_ear], color="red", linewidth=3.6,
            linestyle=(0, (1.0, 1.0)))

# ---- frame pieces and annotations on top ----
top = fig.add_axes(RECT, sharex=base)
top.set_ylim(0, U_TOP)
top.patch.set_visible(False)
top.set_axis_off()
top.plot([X_MIN, 476], [0, 0], color="black", linewidth=3, clip_on=False, solid_capstyle="butt")
top.plot([1222, X_MAX], [0, 0], color="black", linewidth=3, clip_on=False, solid_capstyle="butt")
top.plot([X_MIN, 1262], [U_TOP, U_TOP], color="black", linewidth=1.5, clip_on=False)
top.plot([time_end, time_end], [0, 18.63], color="red", linewidth=2.0, clip_on=False)
top.add_patch(Rectangle((X_MIN, 18.63), X_MAX - X_MIN, 25.18 - 18.63, fill=False,
                        edgecolor=GREEN, linewidth=3.6, clip_on=False))
for cx, width in [(383, 152), (803, 393), (1333, 393)]:
    top.add_patch(Ellipse((cx, 12.22), width, 4.3, fill=False, edgecolor=GREEN, linewidth=3.2))


# ---- axis titles ----
def ftext(x_px, y_px, s, size, **kw):
    fig.text(x_px / W, 1 - y_px / H, s, fontsize=size, ha="center", va="center", **kw)


ftext(28, 112, "Engine Speed", TICK_FS, rotation=90)
ftext(67, 115, "[rpm]", 19, rotation=90)
ftext(28, 356, "Exh. Mass Flow", TICK_FS, rotation=90)
ftext(68, 357, "[kg/h]", 19, rotation=90)
ftext(28, 632, "T ds. Turbine", TICK_FS, rotation=90)
ftext(65, 636, "[°C]", 19, rotation=90)
ftext(28, 848, "EAR", TICK_FS, rotation=90)
ftext(65, 855, "[-]", 19, rotation=90)
ftext(1721, 230, "Torque", TICK_FS, rotation=90)
ftext(1759, 236, "[Nm]", 19, rotation=90)
ftext(1738, 480, r"Raw NO$_\mathregular{x}$", TICK_FS, rotation=90)
ftext(1772, 482, "[ppm]", 19, rotation=90)
ftext(1737, 721, r"Int. Raw NO$_\mathregular{x}$", TICK_FS, rotation=90)
ftext(1770, 722, "[g/kWh]", 19, rotation=90)
ftext(882, 985, "Time [s]", TICK_FS)
ftext(855, 918, "Transient lambda limitation", 26.5, color="red")

fig.savefig("out.png", dpi=DPI)
